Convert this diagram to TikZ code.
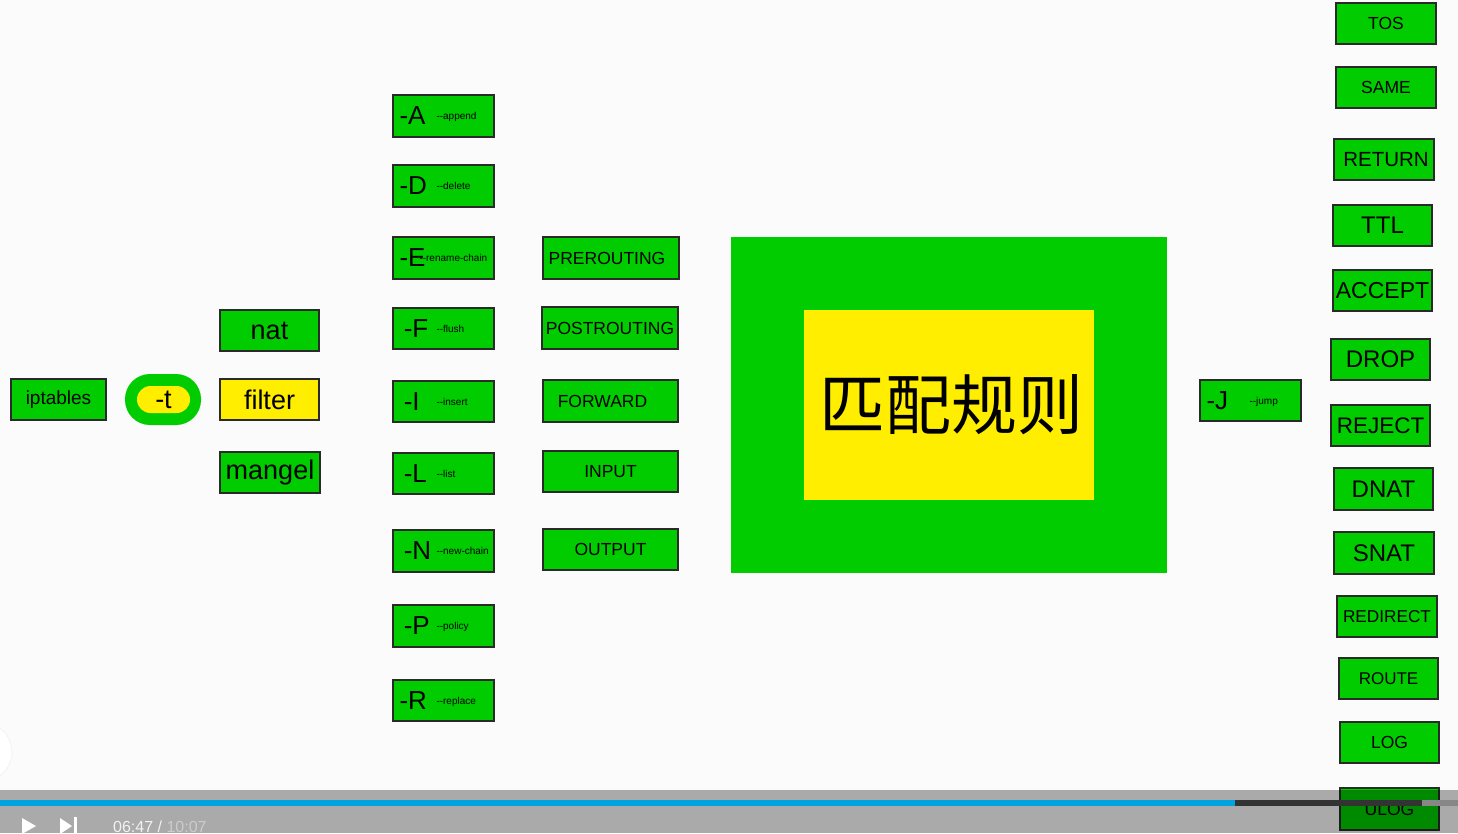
\documentclass[tikz,border=0pt]{standalone}
\usepackage{fontspec}
\setmainfont{Liberation Sans}
\newfontfamily\cjk{Noto Sans CJK SC}
\definecolor{gr}{HTML}{00CC00}
\definecolor{ye}{HTML}{FFEE00}
\definecolor{bd}{HTML}{2A2A2A}
\definecolor{bg}{HTML}{FBFBFB}
\definecolor{prog}{HTML}{00A3E0}
\tikzset{
  gbox/.style={draw=bd, line width=1.5pt, fill=gr, inner sep=0pt, text=black},
  ybox/.style={gbox, fill=ye},
}
\newcommand\fsz[1]{\fontsize{#1}{#1}\selectfont}
% [style] name x1 y1 x2 y2 text
\newcommand\gbox[7][]{\node[gbox,minimum width={#5-#3},minimum height={#6-#4},#1] (#2) at ({(#3+#5)/2},{(#4+#6)/2}) {#7};}
% big, small, width of big part
\newcommand\opt[3]{\makebox[88pt][l]{\makebox[#3][l]{\fsz{26}#1}\raisebox{5pt}{\fsz{10}#2}}}
\begin{document}
\begin{tikzpicture}[x=1pt,y=-1pt]
\useasboundingbox (0,0) rectangle (1458,833);
\fill[bg] (0,0) rectangle (1458,833);
\draw[black!8, fill=white] (-18,752) circle (30);

% left part
\gbox{ipt}{11}{379}{106}{420}{\fsz{19}iptables}
\node[fill=gr, rounded corners=25pt, minimum width=76pt, minimum height=51pt, inner sep=0pt] (tout) at (163,399.5) {};
\node[fill=ye, rounded corners=13.5pt, minimum width=53pt, minimum height=27pt, inner sep=0pt] (tin) at (163.5,399.5) {\fsz{27}-t};
\gbox{nat}{220}{310}{319}{351}{\fsz{27}\raisebox{-2pt}{nat}}
\gbox[ybox]{filter}{220}{379}{319}{420}{\fsz{27}filter}
\gbox{mangel}{220}{452}{320}{493}{\fsz{27}mangel}

% commands
\gbox{cA}{393}{95}{494}{137}{\opt{-A}{-{}-append}{37pt}}
\gbox{cD}{393}{165}{494}{207}{\opt{-D}{-{}-delete}{37pt}}
\gbox{cE}{393}{237}{494}{279}{\opt{-E}{-{}-rename-chain}{20pt}}
\gbox{cF}{393}{308}{494}{349}{\opt{\,-F}{-{}-flush}{37pt}}
\gbox{cI}{393}{381}{494}{422}{\opt{\,-I}{-{}-insert}{37pt}}
\gbox{cL}{393}{453}{494}{494}{\opt{\,-L}{-{}-list}{37pt}}
\gbox{cN}{393}{530}{494}{572}{\opt{\,-N}{-{}-new-chain}{37pt}}
\gbox{cP}{393}{605}{494}{647}{\opt{\,-P}{-{}-policy}{37pt}}
\gbox{cR}{393}{680}{494}{721}{\opt{-R}{-{}-replace}{37pt}}

% chains
\gbox{pre}{543}{237}{679}{279}{\fsz{17.5}\hspace{-8pt}PREROUTING}
\gbox{post}{542}{307}{678}{349}{\fsz{17.5}POSTROUTING}
\gbox{fwd}{543}{380}{678}{422}{\fsz{17.5}\hspace{-16pt}FORWARD}
\gbox{inp}{543}{451}{678}{492}{\fsz{17.5}INPUT}
\gbox{outp}{543}{529}{678}{570}{\fsz{17.5}OUTPUT}

% match rules
\node[fill=gr, minimum width=436pt, minimum height=336pt, inner sep=0pt] (match) at (949,405) {};
\node[fill=ye, minimum width=290pt, minimum height=190pt, inner sep=0pt] (rule) at (949,405) {\hspace{4pt}\cjk\fsz{66}匹配规则};

% jump
\gbox{cJ}{1200}{380}{1301}{421}{\opt{-J}{-{}-jump}{43pt}}

% targets
\gbox{tos}{1336}{3}{1436}{44}{\fsz{17.5}TOS}
\gbox{same}{1336}{67}{1436}{108}{\fsz{17.5}SAME}
\gbox{ret}{1334}{139}{1434}{180}{\fsz{20.5}\hspace{4pt}RETURN}
\gbox{ttl}{1333}{205}{1432}{246}{\fsz{24}TTL}
\gbox{acc}{1333}{270}{1432}{311}{\fsz{23}ACCEPT}
\gbox{drop}{1331}{339}{1430}{380}{\fsz{24}DROP}
\gbox{rej}{1331}{405}{1430}{446}{\fsz{22.5}REJECT}
\gbox{dnat}{1334}{468}{1433}{510}{\fsz{24}DNAT}
\gbox{snat}{1334}{532}{1434}{574}{\fsz{24}SNAT}
\gbox{redir}{1337}{596}{1437}{637}{\fsz{17.2}REDIRECT}
\gbox{route}{1339}{658}{1438}{699}{\fsz{17}ROUTE}
\gbox{log}{1340}{722}{1439}{763}{\fsz{17.5}LOG}
\gbox{ulog}{1340}{788}{1439}{830}{\fsz{17.5}ULOG}

% player bar
\fill[black, opacity=0.32] (0,790) rectangle (1458,833);
\fill[prog] (0,800) rectangle (1235,806);
\fill[black!80] (1235,800) rectangle (1422,806);
\fill[black!47] (1422,800) rectangle (1458,806);
\fill[white] (22,818) -- (36,826) -- (22,834) -- cycle;
\fill[white] (60,818) -- (72,826) -- (60,834) -- cycle;
\fill[white] (74,817) rectangle (76.5,833);
\node[anchor=base west, inner sep=0pt] (time) at (113,832) {\fsz{16}\textcolor{black!5}{06:47 /} \textcolor{black!20}{10:07}};
\end{tikzpicture}
\end{document}
